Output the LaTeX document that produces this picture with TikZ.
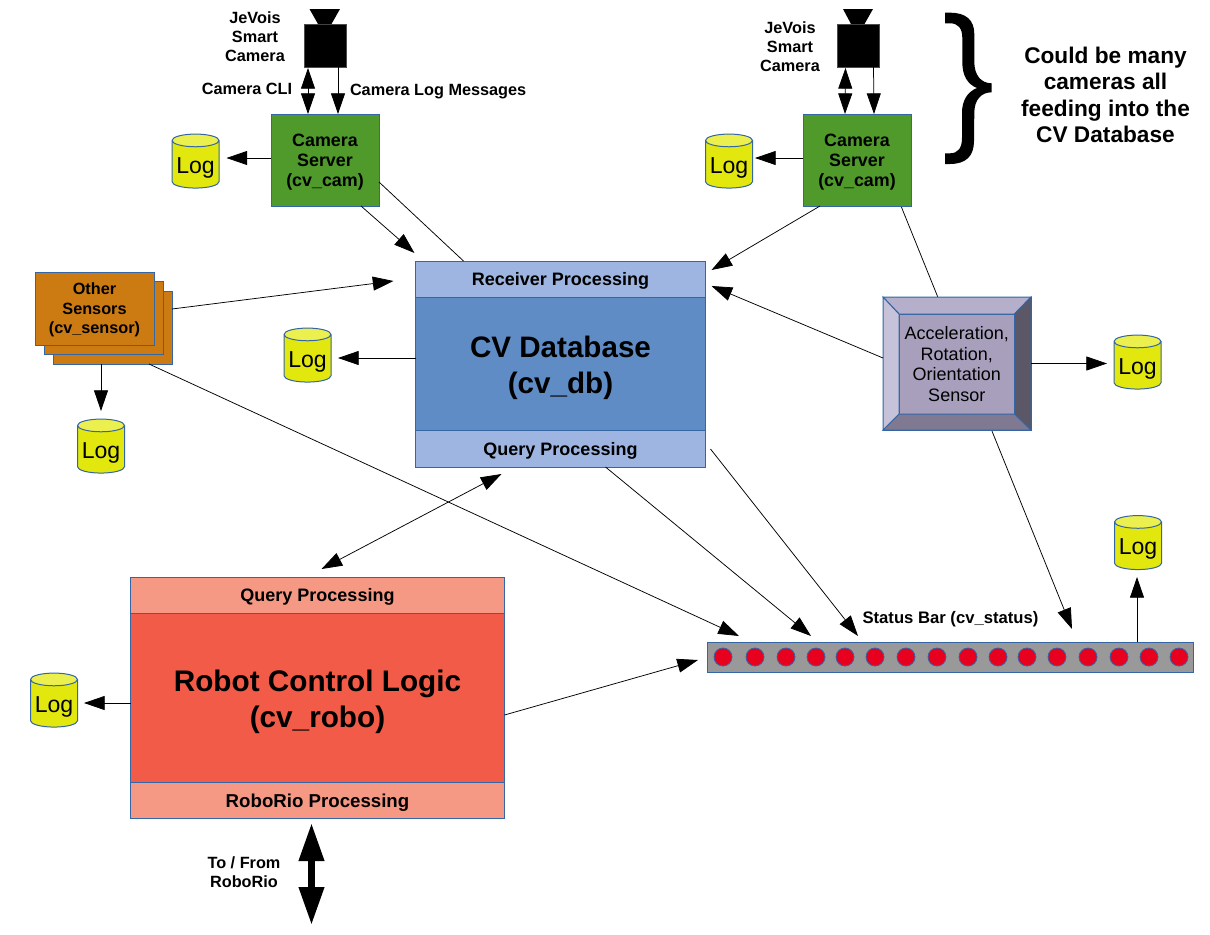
\documentclass[tikz,border=0pt]{standalone}
\usepackage{fontspec}
\setmainfont{Liberation Sans}
\usetikzlibrary{arrows.meta,calc,shapes.geometric,backgrounds}
\newdimen\pxu
\pxu=0.75pt
\newcommand{\fsz}[2]{\fontsize{#1}{#2}\selectfont}
\newcommand{\dropb}[2]{\vbox{\kern#1\kern#1\hbox{\begin{tabular}{@{}c@{}}#2\end{tabular}}}}
\definecolor{edgeblue}{HTML}{3465A4}
\definecolor{srvgreen}{HTML}{4F9A2B}
\definecolor{hdrblue}{HTML}{9DB5E0}
\definecolor{dbblue}{HTML}{5F8CC4}
\definecolor{robored}{HTML}{F15B47}
\definecolor{hdrred}{HTML}{F59884}
\definecolor{sensorange}{HTML}{CC7A12}
\definecolor{logyellow}{HTML}{E2E80D}
\definecolor{logtop}{HTML}{ECF04F}
\definecolor{bevface}{HTML}{A79FBC}
\definecolor{bevleft}{HTML}{C6C2D9}
\definecolor{bevtop}{HTML}{B5AFCB}
\definecolor{bevright}{HTML}{5C5766}
\definecolor{bevbottom}{HTML}{7F7A92}
\definecolor{ledred}{HTML}{E8001F}
\definecolor{bargray}{HTML}{999999}
\tikzset{
  box/.style={rectangle,draw=edgeblue,line width=1\pxu,inner sep=0pt,outer sep=0pt,align=center,text=black},
  srvbox/.style={box,fill=srvgreen,minimum width=108*\pxu,minimum height=92*\pxu,font=\bfseries\fsz{13.4}{15.2}},
  bandblue/.style={box,fill=hdrblue,minimum width=291*\pxu,font=\bfseries\fsz{13.5}{16}},
  bandred/.style={box,fill=hdrred,minimum width=375*\pxu,font=\bfseries\fsz{13.5}{16}},
  sensbox/.style={box,fill=sensorange,minimum width=119*\pxu,minimum height=73*\pxu,font=\bfseries\fsz{12.2}{14.6}},
  cambody/.style={rectangle,fill=black,draw=black!70,line width=0.8\pxu,inner sep=0pt,outer sep=0pt,minimum width=42*\pxu,minimum height=43*\pxu},
  logdb/.style={cylinder,shape border rotate=90,aspect=0.33,draw=edgeblue,line width=1\pxu,cylinder uses custom fill,cylinder body fill=logyellow,cylinder end fill=logtop,inner sep=0pt,outer sep=0pt,minimum width=47*\pxu,minimum height=54*\pxu,font=\fsz{17.3}{18},text=black},
  lbl/.style={align=center,inner sep=0pt,outer sep=0pt,font=\bfseries\fsz{12.2}{14.2},text=black},
  conn/.style={line width=0.75\pxu,draw=black,-{Triangle[length=15.5pt,width=10.5pt]}},
  connboth/.style={line width=0.75\pxu,draw=black,{Triangle[length=15.5pt,width=10.5pt]}-{Triangle[length=15.5pt,width=10.5pt]}},
  plainline/.style={line width=0.75\pxu,draw=black},
  led/.style={circle,fill=ledred,draw=edgeblue,line width=0.8\pxu,inner sep=0pt,outer sep=0pt,minimum size=18*\pxu}
}
\begin{document}
\begin{tikzpicture}[x=0.75pt,y=-0.75pt]
\useasboundingbox (0,0) rectangle (1210,935);

% cameras
\node[cambody] (camA) at (325,45.5) {};
\node[cambody] (camB) at (858.5,45.5) {};
\fill[black] (309.5,9) -- (340,9) -- (331.5,24) -- (318,24) -- cycle;
\fill[black] (843,9) -- (873,9) -- (864.5,24) -- (851,24) -- cycle;
\node[lbl] (jevA) at (255,37) {JeVois\\Smart\\Camera};
\node[lbl] (jevB) at (790,46.5) {JeVois\\Smart\\Camera};
\node[lbl] (cliLbl) at (247,89) {Camera CLI};
\node[lbl,anchor=west] (msgLbl) at (350,92) {Camera Log Messages};

% servers
\node[srvbox] (srvA) at (325,160) {\dropb{1.8pt}{Camera\\Server\\(cv\_cam)}};
\node[srvbox] (srvB) at (857,160) {\dropb{1.8pt}{Camera\\Server\\(cv\_cam)}};

% brace and note
\fill[black] (945,12.7) -- (950,12.7) .. controls (966,12.7) and (974.3,20) .. (974.3,34) -- (974.3,62)
  .. controls (974.3,75) and (981,83.3) .. (991.7,83.3) -- (991.7,92.3)
  .. controls (981,92.3) and (974.3,100) .. (974.3,113) -- (974,141)
  .. controls (974,156) and (966,164) .. (950,164) -- (945,164) -- (945,153.3) -- (950,153.3)
  .. controls (958,153.3) and (962,148) .. (962,138) -- (962,113)
  .. controls (962,101) and (967,92) .. (977,88)
  .. controls (967,84) and (962.3,75) .. (962.3,62) -- (962.3,38)
  .. controls (962.3,28) and (958,23.3) .. (950,23.3) -- (945,23.3) -- cycle;
\node[lbl,font=\bfseries\fsz{17}{19.7}] (note) at (1105.5,95) {Could be many\\cameras all\\feeding into the\\CV Database};

% database
\node[box,fill=dbblue,minimum width=290*\pxu,minimum height=133*\pxu,font=\bfseries\fsz{22.2}{27}] (db) at (560.5,363.5) {\dropb{3.7pt}{CV Database\\(cv\_db)}};
\node[bandblue,minimum width=290*\pxu,minimum height=36*\pxu] (dbRecv) at (560.5,279) {\dropb{1.7pt}{Receiver Processing}};
\node[bandblue,minimum width=290*\pxu,minimum height=37*\pxu] (dbQuery) at (560.5,448.5) {\dropb{1.7pt}{Query Processing}};

% robot
\node[box,fill=robored,minimum width=374*\pxu,minimum height=169*\pxu,font=\bfseries\fsz{22.3}{27}] (robo) at (317.5,697.5) {\dropb{3.7pt}{Robot Control Logic\\(cv\_robo)}};
\node[bandred,minimum width=374*\pxu,minimum height=36*\pxu] (roboQuery) at (317.5,595) {\dropb{1.7pt}{Query Processing}};
\node[bandred,minimum width=374*\pxu,minimum height=36*\pxu,font=\bfseries\fsz{14}{16}] (roboRio) at (317.5,800) {\dropb{2.4pt}{RoboRio Processing}};
\node[lbl] (rioLbl) at (244,872.5) {To / From\\RoboRio};

% sensors
\node[sensbox] (sensC) at (112.5,327.5) {};
\node[sensbox] (sensB) at (103.5,318) {};
\node[sensbox] (sensA) at (94.5,308.5) {\dropb{1.5pt}{Other\\Sensors\\(cv\_sensor)}};

% acceleration sensor
\node[box,minimum width=148*\pxu,minimum height=133*\pxu] (accel) at (957,363.5) {};
\node[box,fill=bevface,minimum width=115.5*\pxu,minimum height=100*\pxu,font=\fsz{13.5}{15.4}] (accelFace) at (956.75,364) {Acceleration,\\Rotation,\\Orientation\\Sensor};
\begin{scope}[draw=edgeblue,line width=1\pxu]
\filldraw[fill=bevtop] (accel.north west) -- (accel.north east) -- (accelFace.north east) -- (accelFace.north west) -- cycle;
\filldraw[fill=bevright] (accel.north east) -- (accel.south east) -- (accelFace.south east) -- (accelFace.north east) -- cycle;
\filldraw[fill=bevbottom] (accel.south west) -- (accel.south east) -- (accelFace.south east) -- (accelFace.south west) -- cycle;
\filldraw[fill=bevleft] (accel.north west) -- (accel.south west) -- (accelFace.south west) -- (accelFace.north west) -- cycle;
\end{scope}

% status bar
\node[box,fill=bargray,minimum width=486*\pxu,minimum height=30*\pxu] (status) at (950,657) {};
\foreach \lx [count=\li] in {723,755,786,816,845,875,906,937,968,998,1027,1057,1088,1119,1149,1179}
  \node[led] (led\li) at (\lx,657) {};
\node[lbl,font=\bfseries\fsz{12.5}{14.2}] (statusLbl) at (950.5,619) {Status Bar (cv\_status)};

% logs
\newcommand{\logtxt}{\dropb{3pt}{Log}}
\node[logdb] (logA) at (195.5,164.5) {\logtxt};
\node[logdb] (logB) at (729,164.5) {\logtxt};
\node[logdb] (logDb) at (307.5,358.5) {\logtxt};
\node[logdb] (logSens) at (101,449.5) {\logtxt};
\node[logdb] (logAccel) at (1137.5,365.5) {\logtxt};
\node[logdb] (logStat) at (1138,546) {\logtxt};
\node[logdb] (logRobo) at (54,703.5) {\logtxt};

% camera links
\draw[connboth] ($(camA.south west)+(4,1)$) -- ($(srvA.north west)+(37,0)$);
\draw[conn] ($(camA.south east)+(-8,0)$) -- ($(srvA.north west)+(67,0)$);
\draw[connboth] ($(camB.south west)+(8,1)$) -- ($(srvB.north west)+(42,0)$);
\draw[conn] ($(camB.south east)+(-6,0)$) -- ($(srvB.north west)+(71,0)$);

% log links
\draw[conn] ($(srvA.west)+(0,-2)$) -- ($(logA.center)+(31,-6.5)$);
\draw[conn] ($(srvB.west)+(0,-2)$) -- ($(logB.center)+(26,-6.5)$);
\draw[conn] ($(db.west)+(0,-5.5)$) -- ($(logDb.center)+(30.5,-0.5)$);
\draw[conn] ($(sensC.south west)+(48,0)$) -- ($(logSens.center)+(0,-38.5)$);
\draw[conn] (accel.east) -- ($(logAccel.center)+(-30.5,-2)$);
\draw[conn] ($(status.north west)+(430,0)$) -- ($(logStat.center)+(-1,31)$);
\draw[conn] ($(robo.west)+(0,5.5)$) -- ($(logRobo.center)+(30,-0.5)$);

% main links
\draw[conn] ($(srvA.south west)+(90,0)$) -- ($(dbRecv.north west)+(-1,-8)$);
\draw[plainline] ($(srvA.south east)+(0,-24)$) -- ($(dbRecv.north west)+(48,0)$);
\draw[conn] ($(srvB.south west)+(17,0)$) -- ($(dbRecv.north east)+(6,9)$);
\begin{scope}[on background layer]
\draw[conn] ($(srvB.south west)+(98,0)$) -- ($(status.north west)+(365,-13)$);
\end{scope}
\draw[conn] ($(sensC.east)+(0,-18.5)$) -- ($(dbRecv.west)+(-22,2)$);
\draw[conn] ($(sensC.south west)+(96,0)$) -- ($(status.north west)+(32,-6)$);
\draw[conn] ($(accel.west)+(0,-5.5)$) -- ($(dbRecv.east)+(6,7)$);
\draw[conn] ($(dbQuery.south west)+(190,0)$) -- ($(status.north west)+(104,-6)$);
\draw[conn] ($(dbQuery.east)+(5,0.5)$) -- ($(status.north west)+(151,-6)$);
\draw[connboth] ($(dbQuery.south west)+(86,7)$) -- ($(roboQuery.north west)+(191,-8)$);
\draw[conn] ($(robo.east)+(0,17.5)$) -- ($(status.west)+(-9,3)$);

% RoboRio link
\coordinate (rioEnd) at (311.5,925);
\draw[line width=5.25pt,{Triangle[length=28.5pt,width=18pt]}-{Triangle[length=28.5pt,width=18pt]}] ($(roboRio.south)+(-6,5)$) -- (rioEnd);
\end{tikzpicture}
\end{document}
